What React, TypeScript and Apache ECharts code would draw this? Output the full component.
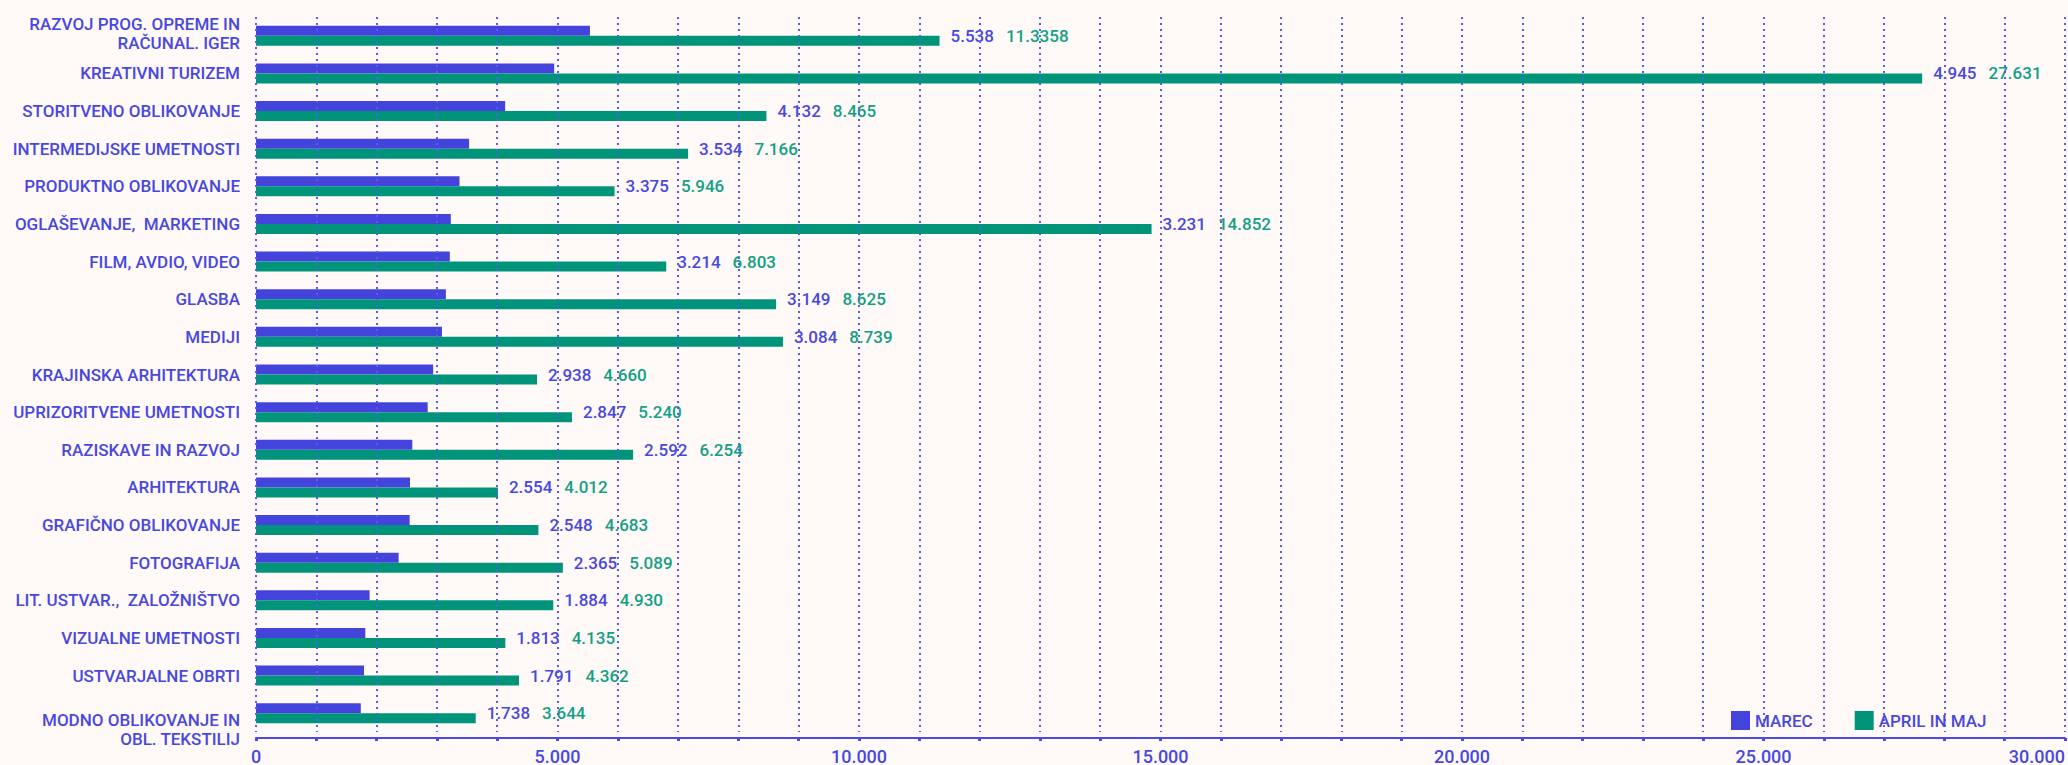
import React, { useEffect, useRef } from "react";
import * as echarts from "echarts";

const categories = [
  "RAZVOJ PROG. OPREME IN\nRAČUNAL. IGER",
  "KREATIVNI TURIZEM",
  "STORITVENO OBLIKOVANJE",
  "INTERMEDIJSKE UMETNOSTI",
  "PRODUKTNO OBLIKOVANJE",
  "OGLAŠEVANJE,  MARKETING",
  "FILM, AVDIO, VIDEO",
  "GLASBA",
  "MEDIJI",
  "KRAJINSKA ARHITEKTURA",
  "UPRIZORITVENE UMETNOSTI",
  "RAZISKAVE IN RAZVOJ",
  "ARHITEKTURA",
  "GRAFIČNO OBLIKOVANJE",
  "FOTOGRAFIJA",
  "LIT. USTVAR.,  ZALOŽNIŠTVO",
  "VIZUALNE UMETNOSTI",
  "USTVARJALNE OBRTI",
  "MODNO OBLIKOVANJE IN\nOBL. TEKSTILIJ",
];

const marec = [5538, 4945, 4132, 3534, 3375, 3231, 3214, 3149, 3084, 2938, 2847, 2592, 2554, 2548, 2365, 1884, 1813, 1791, 1738];
const aprilMaj = [11335.8, 27631, 8465, 7166, 5946, 14852, 6803, 8625, 8739, 4660, 5240, 6254, 4012, 4683, 5089, 4930, 4135, 4362, 3644];

const seriesNames = ["MAREC", "APRIL IN MAJ"];
const axisMax = 30000;
const axisStep = 1000;
const labelStep = 5000;

const BLUE = "#4444dd";
const GREEN = "#00957b";
const TEXT_BLUE = "#4848e0";
const TEXT_GREEN = "#12a084";
const FONT = "Roboto, 'Noto Sans', sans-serif";

function fmt(v: number): string {
  const s = String(v);
  const [i, d] = s.split(".");
  const ii = i.replace(/\B(?=(\d{3})+(?!\d))/g, ".");
  return d ? ii + d : ii;
}

const catTextStyle = {
  color: TEXT_BLUE,
  fontSize: 17,
  fontWeight: 500,
  fontFamily: FONT,
  lineHeight: 19,
  align: "right",
};

export default function App() {
  const ref = useRef<HTMLDivElement>(null);
  useEffect(() => {
    document.body.style.margin = "0";
    const chart = echarts.init(ref.current!, null, { renderer: "svg" });
    const last = categories.length - 1;
    chart.setOption({
      animation: false,
      backgroundColor: "#fffaf7",
      textStyle: { fontFamily: FONT },
      legend: {
        left: 1726,
        top: 706,
        itemWidth: 19,
        itemHeight: 19,
        itemGap: 42,
        icon: "rect",
        data: seriesNames,
        textStyle: { color: TEXT_BLUE, fontSize: 17, fontWeight: 500, fontFamily: FONT },
      },
      grid: { left: 256, right: 0, top: 17, bottom: 29, containLabel: false },
      xAxis: {
        type: "value",
        min: 0,
        max: axisMax,
        interval: axisStep,
        offset: 6,
        z: 3,
        axisLine: { show: true, lineStyle: { color: "#4a4ae6", width: 2 } },
        axisTick: { show: true, length: 3, lineStyle: { color: "#4a4ae6", width: 3 } },
        axisLabel: {
          color: TEXT_BLUE,
          fontSize: 18,
          fontWeight: 500,
          fontFamily: FONT,
          margin: 9,
          alignMaxLabel: "right",
          showMaxLabel: true,
          formatter: (v: number) => (v % labelStep === 0 ? fmt(v) : ""),
        },
        splitLine: {
          show: true,
          lineStyle: { color: "#5b5be8", width: 2, type: [2, 4] },
        },
      },
      yAxis: {
        type: "category",
        inverse: true,
        data: categories,
        axisLine: { show: false },
        axisTick: { show: false },
        axisLabel: {
          ...catTextStyle,
          margin: 16,
          interval: 0,
          showMinLabel: true,
          showMaxLabel: true,
          formatter: (value: string, index: number) => {
            const lines = value.split("\n").map((l) => `{t|${l}}`);
            if (index === 0) return lines.join("\n") + "\n{s1| }";
            if (index === last) return "{s2| }\n" + lines.join("\n");
            return lines.join("\n");
          },
          rich: {
            t: { ...catTextStyle },
            s1: { fontSize: 4, lineHeight: 5, align: "right" },
            s2: { fontSize: 8, lineHeight: 33, align: "right" },
          },
        },
      },
      series: [
        {
          name: seriesNames[0],
          type: "bar",
          data: marec,
          barWidth: 10,
          barGap: "0%",
          itemStyle: { color: BLUE },
        },
        {
          name: seriesNames[1],
          type: "bar",
          data: aprilMaj,
          barWidth: 10,
          barGap: "0%",
          itemStyle: { color: GREEN },
          label: {
            show: true,
            position: "right",
            distance: 11,
            offset: [0, -5],
            formatter: (p: any) => `{a|${fmt(marec[p.dataIndex])}}{b|${fmt(p.value)}}`,
            rich: {
              a: { color: TEXT_BLUE, fontSize: 17, fontWeight: 500, fontFamily: FONT, padding: [0, 12, 0, 0] },
              b: { color: TEXT_GREEN, fontSize: 17, fontWeight: 500, fontFamily: FONT },
            },
          },
        },
      ],
    });
    return () => chart.dispose();
  }, []);
  return <div ref={ref} style={{ width: 2068, height: 765 }} />;
}
